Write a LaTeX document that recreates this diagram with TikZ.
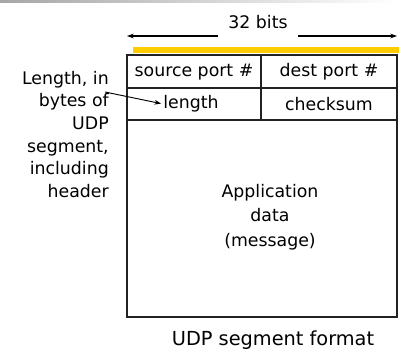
\documentclass[tikz,border=0pt]{standalone}
\usepackage{fontspec}
\setmainfont{DejaVu Sans}
\usetikzlibrary{arrows.meta}
\definecolor{bargold}{HTML}{FFCC00}
\definecolor{linegray}{HTML}{222222}
\tikzset{
  cell/.style={draw=linegray, line width=1.4pt},
  txt/.style={inner sep=0pt, font=\fontsize{13}{17}\selectfont, text=black},
  pointer/.style={-{Stealth[length=5pt,width=3.5pt]}, line width=0.8pt, draw=black},
}
\begin{document}
\begin{tikzpicture}[x=0.75pt,y=-0.75pt]
\useasboundingbox (0,0) rectangle (399,353);
% top gray gradient strip
\shade[left color=gray!70, right color=white] (0,0) rectangle (399,2.5);
% yellow bar
\fill[bargold] (133,47) rectangle (399,53.5);
% 32 bits
\node[txt] (bits) at (258,22) {32 bits};
\coordinate (la) at (218,36);
\coordinate (lb) at (127,36);
\coordinate (ra) at (298,36);
\coordinate (rb) at (397,36);
\draw[pointer] (la) -- (lb);
\draw[pointer] (ra) -- (rb);
% segment box
\draw[cell] (127,55) rectangle (397,317);
\draw[cell] (127,88) -- (397,88);
\draw[cell] (127,120) -- (397,120);
\draw[cell] (261,55) -- (261,120);
% cell texts
\node[txt] (src) at (194,72) {source port \#};
\node[txt] (dst) at (329,72) {dest port \#};
\node[txt] (len) at (191,104) {length};
\node[txt] (chk) at (329,104) {checksum};
\node[txt, align=center, font=\fontsize{13}{18.4}\selectfont] (data) at (270,217) {Application\\data\\(message)};
% annotation
\node[txt, align=right, anchor=north east, font=\fontsize{13}{16.9}\selectfont] (note) at (109,71)
  {Length, in\\bytes of\\UDP\\segment,\\including\\header};
\coordinate (ns) at (105,92);
\draw[pointer, line width=0.7pt, shorten >=1.5pt] (ns) -- (len.west);
% caption
\node[txt, font=\fontsize{14.5}{17}\selectfont] (cap) at (273,340) {UDP segment format};
\end{tikzpicture}
\end{document}
